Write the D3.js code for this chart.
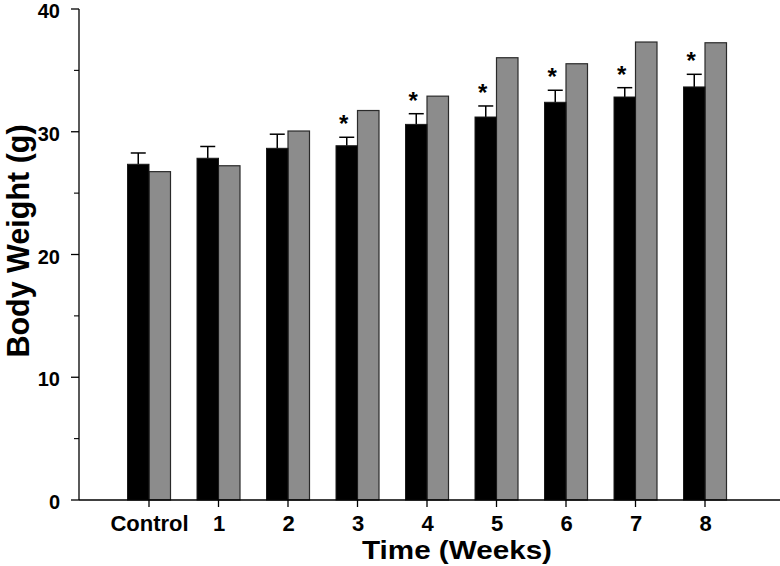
<!DOCTYPE html>
<html>
<head>
<meta charset="utf-8">
<script src="https://cdn.jsdelivr.net/npm/d3@7/dist/d3.min.js"></script>
<style>
  html, body { margin: 0; padding: 0; background: #fff; }
  svg { display: block; font-family: "Liberation Sans", Arial, sans-serif; }
</style>
</head>
<body>
<svg id="chart" width="780" height="566"></svg>
<script>
// ---- data ----
const categories = ["Control", "1", "2", "3", "4", "5", "6", "7", "8"];
const blackValues = [27.35, 27.84, 28.65, 28.86, 30.6, 31.2, 32.4, 32.83, 33.65];
const blackErrors = [0.92, 0.96, 1.15, 0.69, 0.87, 0.9, 0.98, 0.76, 1.03];
const grayValues  = [26.75, 27.23, 30.06, 31.73, 32.9, 36.03, 35.54, 37.31, 37.25];
const significant = [false, false, false, true, true, true, true, true, true];
const yMajorTicks = [0, 10, 20, 30, 40];
const yMinorTicks = [5, 15, 25, 35];
const xTitle = "Time (Weeks)";
const yTitle = "Body Weight (g)";

// ---- layout ----
const svg = d3.select("#chart");
const axisLeft = 79, axisRight = 780, axisBottom = 500, axisTop = 9;
const barW = 21.5;

const x = d3.scalePoint().domain(categories).range([149, 705]);
const y = d3.scaleLinear().domain([0, 40]).range([axisBottom, axisTop]);

const rows = categories.map((c, i) => ({
  c, b: blackValues[i], e: blackErrors[i], g: grayValues[i], s: significant[i]
}));

// bars
const g = svg.append("g");
g.selectAll("rect.gray").data(rows).join("rect")
  .attr("class", "gray")
  .attr("x", d => x(d.c))
  .attr("y", d => y(d.g))
  .attr("width", barW)
  .attr("height", d => y(0) - y(d.g))
  .attr("fill", "#8c8c8c")
  .attr("stroke", "#2a2a2a")
  .attr("stroke-width", 1.2);

// error bars (upward only)
g.selectAll("line.err").data(rows).join("line")
  .attr("x1", d => x(d.c) - barW / 2)
  .attr("x2", d => x(d.c) - barW / 2)
  .attr("y1", d => y(d.b))
  .attr("y2", d => y(d.b + d.e))
  .attr("stroke", "#000").attr("stroke-width", 1.5);
g.selectAll("line.cap").data(rows).join("line")
  .attr("x1", d => x(d.c) - barW / 2 - 7.5)
  .attr("x2", d => x(d.c) - barW / 2 + 7.5)
  .attr("y1", d => y(d.b + d.e))
  .attr("y2", d => y(d.b + d.e))
  .attr("stroke", "#000").attr("stroke-width", 1.5);

g.selectAll("rect.black").data(rows).join("rect")
  .attr("class", "black")
  .attr("x", d => x(d.c) - barW)
  .attr("y", d => y(d.b))
  .attr("width", barW)
  .attr("height", d => y(0) - y(d.b))
  .attr("fill", "#000")
  .attr("stroke", "#1a1a1a")
  .attr("stroke-width", 1);

// asterisks
g.selectAll("text.star").data(rows.filter(d => d.s)).join("text")
  .attr("x", d => x(d.c) - barW / 2 - 3)
  .attr("y", d => y(d.b + d.e) - 5)
  .attr("text-anchor", "middle")
  .attr("font-size", 24)
  .attr("font-weight", "bold")
  .text("*");

// y axis
const yAxis = svg.append("g").attr("transform", `translate(${axisLeft},0)`);
yAxis.append("line")
  .attr("x1", 0).attr("x2", 0)
  .attr("y1", y(40)).attr("y2", y(0))
  .attr("stroke", "#000").attr("stroke-width", 1.3);
yAxis.selectAll("line.maj").data(yMajorTicks).join("line")
  .attr("x1", -8).attr("x2", 0)
  .attr("y1", d => y(d)).attr("y2", d => y(d))
  .attr("stroke", "#000").attr("stroke-width", 1.3);
yAxis.selectAll("line.min").data(yMinorTicks).join("line")
  .attr("x1", -5).attr("x2", 0)
  .attr("y1", d => y(d)).attr("y2", d => y(d))
  .attr("stroke", "#000").attr("stroke-width", 1.1);
yAxis.selectAll("text").data(yMajorTicks).join("text")
  .attr("x", -19)
  .attr("y", d => y(d))
  .attr("dy", "0.45em")
  .attr("text-anchor", "end")
  .attr("font-size", 20)
  .attr("font-weight", "bold")
  .text(d => d);

// x axis
const xAxis = svg.append("g");
xAxis.append("line")
  .attr("x1", axisLeft).attr("x2", axisRight)
  .attr("y1", axisBottom).attr("y2", axisBottom)
  .attr("stroke", "#000").attr("stroke-width", 1.3);
xAxis.selectAll("line.tick").data(categories).join("line")
  .attr("x1", d => x(d)).attr("x2", d => x(d))
  .attr("y1", axisBottom).attr("y2", axisBottom + 7)
  .attr("stroke", "#000").attr("stroke-width", 1.3);
xAxis.selectAll("text").data(categories).join("text")
  .attr("x", d => x(d) + 0.5)
  .attr("y", 531)
  .attr("text-anchor", "middle")
  .attr("font-size", 22)
  .attr("font-weight", "bold")
  .text(d => d);

// titles
svg.append("text")
  .attr("x", 457).attr("y", 559)
  .attr("text-anchor", "middle")
  .attr("font-size", 25)
  .attr("font-weight", "bold")
  .attr("textLength", 190)
  .attr("lengthAdjust", "spacingAndGlyphs")
  .text(xTitle);

svg.append("text")
  .attr("transform", "translate(29,241) rotate(-90)")
  .attr("text-anchor", "middle")
  .attr("font-size", 30.5)
  .attr("font-weight", "bold")
  .text(yTitle);
</script>
</body>
</html>
